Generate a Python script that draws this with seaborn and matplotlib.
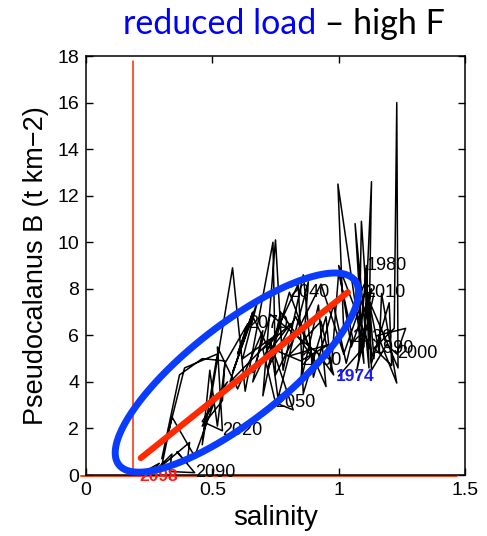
import numpy as np
import pandas as pd
import matplotlib
matplotlib.use('Agg')
import matplotlib.pyplot as plt
import seaborn as sns

# trajectory 1974-2098 (salinity, biomass)
years = list(range(1974, 2099))
salinity = [1.00, 1.10, 1.13, 1.12, 1.09, 1.08, 1.11, 1.12, 1.065, 1.10,
            0.997, 1.02, 1.11, 1.13, 1.20, 1.21, 1.14, 1.22, 1.23, 1.235,
            1.12, 1.16, 1.17, 1.23, 1.155, 1.265, 1.23, 1.19, 1.13, 1.12,
            1.14, 1.00, 1.05, 1.13, 1.07, 1.14, 1.105, 1.02, 0.93, 0.75,
            0.74, 0.63, 0.58, 0.49, 0.56, 0.46, 0.54, 0.52, 0.60, 0.70,
            0.66, 0.84, 0.86, 0.95, 0.97, 1.00, 1.055, 1.03, 0.98, 0.90,
            0.86, 0.78, 0.75, 0.70, 0.77, 0.90, 0.805, 0.72, 0.83, 0.95,
            0.92, 0.85, 0.88, 0.76, 0.73, 0.82, 0.75, 0.70, 0.81, 0.66,
            0.73, 0.92, 0.98, 0.93, 0.80, 0.96, 0.85, 0.72, 0.66, 0.58,
            0.68, 0.62, 0.75, 0.57, 0.66, 0.60, 0.64, 0.55, 0.52, 0.49,
            0.46, 0.52, 0.39, 0.30, 0.37, 0.46, 0.55, 0.54, 0.46, 0.52,
            0.43, 0.34, 0.30, 0.41, 0.40, 0.36, 0.43, 0.33, 0.34, 0.28,
            0.26, 0.29, 0.24, 0.23, 0.21]
biomass = [4.25, 5.5, 12.6, 6.0, 10.9, 5.0, 9.0, 4.6, 10.8, 4.8,
           12.5, 6.2, 8.4, 4.8, 7.4, 4.7, 5.45, 6.3, 16.0, 4.6,
           7.5, 5.3, 7.8, 3.95, 6.0, 6.3, 5.2, 5.6, 4.5, 7.6,
           5.0, 9.0, 5.5, 8.0, 4.4, 7.8, 7.85, 5.2, 8.2, 4.3,
           10.0, 3.6, 8.9, 3.0, 4.0, 2.3, 1.9, 5.5, 3.7, 6.2,
           4.0, 8.2, 3.5, 6.8, 4.5, 8.7, 5.9, 4.8, 7.3, 4.2,
           8.6, 4.5, 10.1, 3.4, 7.0, 5.0, 7.85, 4.6, 6.8, 3.8,
           7.3, 4.0, 8.3, 3.3, 5.7, 2.8, 3.1, 5.4, 6.5, 4.4,
           6.9, 5.2, 4.3, 6.6, 5.1, 5.6, 4.9, 5.5, 6.8, 4.4,
           7.5, 5.0, 6.0, 4.0, 7.0, 5.2, 6.5, 4.8, 2.1, 4.5,
           1.3, 5.2, 4.6, 0.7, 4.3, 5.0, 4.9, 3.2, 2.1, 3.5,
           0.8, 2.5, 0.4, 1.4, 0.5, 1.0, 0.1, 0.15, 0.9, 0.25,
           0.1, 0.5, 0.2, 0.05, 0.05]

label_years = [1980, 1990, 2000, 2010, 2020, 2030, 2040, 2050, 2060, 2070, 2090]
first_year, last_year = 1974, 2098

# fitted trend and marked ellipse
trend_x = [0.217, 1.036]
trend_y = [0.73, 7.85]
threshold_x = 0.186
threshold_top = 17.8
ell_center = (0.597, 4.40)
ell_u = (0.467, 3.96)
ell_v = (-0.117, 1.62)

df = pd.DataFrame({'year': years, 'salinity': salinity, 'B': biomass})

sns.set_style('ticks')
plt.rcParams['font.family'] = ['Liberation Sans', 'DejaVu Sans']
plt.rcParams['text.color'] = 'black'
plt.rcParams['axes.labelcolor'] = 'black'

fig = plt.figure(figsize=(4.87, 5.36), dpi=100)
ax = fig.add_axes([0.1766, 0.1138, 0.7782, 0.7817])

sns.lineplot(data=df, x='salinity', y='B', sort=False, estimator=None,
             color='black', linewidth=1.1, ax=ax, zorder=2)

ax.plot([threshold_x, threshold_x], [0, threshold_top], color='#ff2a00', lw=1.1, zorder=1)
ax.plot([-0.02, 1.47], [-0.04, -0.04], color='#ff2a00', lw=1.3, zorder=1, clip_on=False)

for yr in label_years:
    i = years.index(yr)
    ax.text(salinity[i], biomass[i], str(yr), fontsize=13, color='black',
            ha='left', va='center', zorder=3)
i0 = years.index(first_year)
ax.text(salinity[i0] - 0.01, biomass[i0], str(first_year), fontsize=12.5, fontweight='bold',
        color='#1a1aff', ha='left', va='center', zorder=6)
i1 = years.index(last_year)
ax.text(salinity[i1], biomass[i1] - 0.1, str(last_year), fontsize=12.5, fontweight='bold',
        color='#ff1a1a', ha='left', va='center', zorder=3, clip_on=False)

sns.lineplot(x=trend_x, y=trend_y, color='#ff2a00', linewidth=4.5, ax=ax, zorder=4)

t = np.linspace(0, 2 * np.pi, 300)
ex = ell_center[0] + ell_u[0] * np.cos(t) + ell_v[0] * np.sin(t)
ey = ell_center[1] + ell_u[1] * np.cos(t) + ell_v[1] * np.sin(t)
ax.plot(ex, ey, color='#0a3cff', lw=5, zorder=5, clip_on=False)

ax.set_xlim(0, 1.5)
ax.set_ylim(0, 18)
ax.set_xticks([0, 0.5, 1, 1.5])
ax.set_xticklabels(['0', '0.5', '1', '1.5'])
ax.set_yticks(range(0, 19, 2))
ax.tick_params(direction='in', length=5, width=1, top=True, right=True, labelsize=14,
               colors='black', pad=5)
for s in ax.spines.values():
    s.set_linewidth(1.1)
    s.set_color('black')
ax.set_xlabel('salinity', fontsize=20, labelpad=4, color='black')
ax.set_ylabel('Pseudocalanus B (t km\u22122)', fontsize=19.5, labelpad=6, color='black')

t1 = fig.text(123 / 487, 1 - 34 / 536, 'reduced load', fontsize=24.5, color='#0000ff',
              family=['Lato', 'DejaVu Sans'], ha='left', va='baseline')
ax.annotate(' \u2013 high F', xy=(1, 0), xycoords=t1, fontsize=24.5, color='black',
            family=['Lato', 'DejaVu Sans'], ha='left', va='bottom', annotation_clip=False)

plt.savefig('out.png', dpi=100)
